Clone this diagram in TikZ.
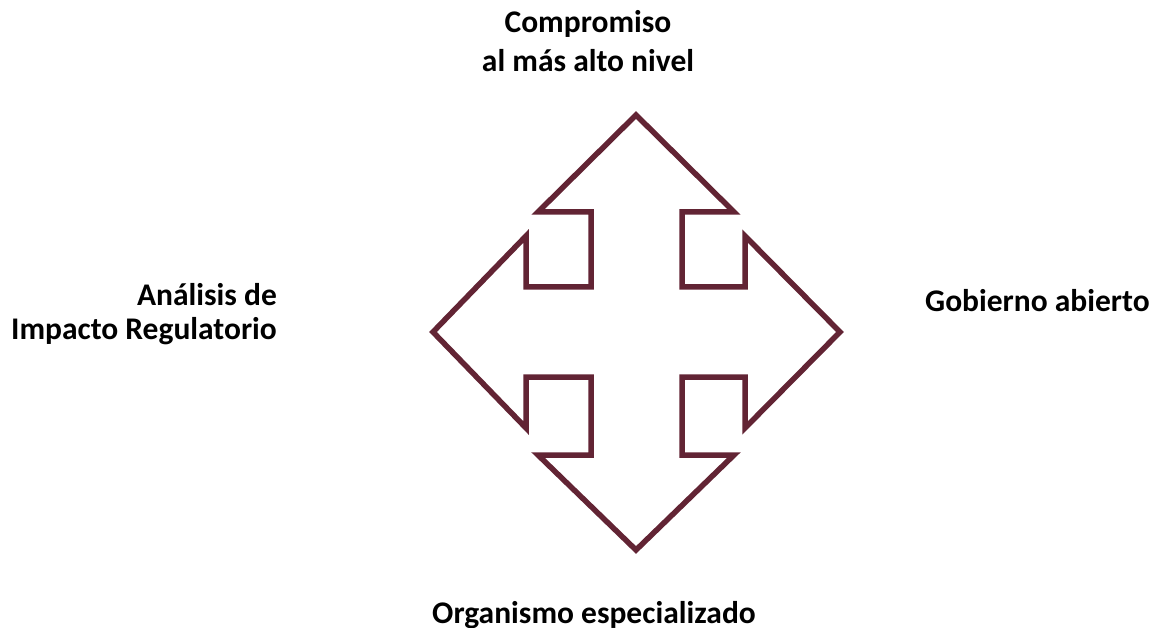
\documentclass[tikz,border=0pt]{standalone}
\usepackage{fontspec}
\setmainfont{Carlito}
\definecolor{maroon}{RGB}{98,36,52}
\begin{document}
\begin{tikzpicture}[x=1pt,y=-1pt,
  lbl/.style={font=\bfseries\fontsize{31.5}{39}\selectfont, text=black, inner sep=0pt},
  arrowline/.style={draw=maroon, line width=5.5pt, line join=miter}]
\useasboundingbox (0,0) rectangle (1154,628);
\draw[arrowline] (636,115) -- (734,212) -- (682,212) -- (682,287) -- (745,287) -- (745,236)
  -- (840,332) -- (745,428) -- (745,377) -- (682,377) -- (682,455) -- (734,455)
  -- (636,550) -- (538,455) -- (591,455) -- (591,377) -- (526,377) -- (526,428)
  -- (433,332) -- (526,236) -- (526,287) -- (591,287) -- (591,212) -- (538,212) -- cycle;
\node[lbl, align=center, anchor=base] (top) at (588,72) {Compromiso\\al más alto nivel};
\node[lbl, font=\bfseries\fontsize{31.5}{35}\selectfont, align=right, anchor=base east] (left) at (277,340) {Análisis de\\Impacto Regulatorio};
\node[lbl, anchor=base west] (right) at (925,312) {Gobierno abierto};
\node[lbl, anchor=base] (bottom) at (594,623) {Organismo especializado};
\end{tikzpicture}
\end{document}
